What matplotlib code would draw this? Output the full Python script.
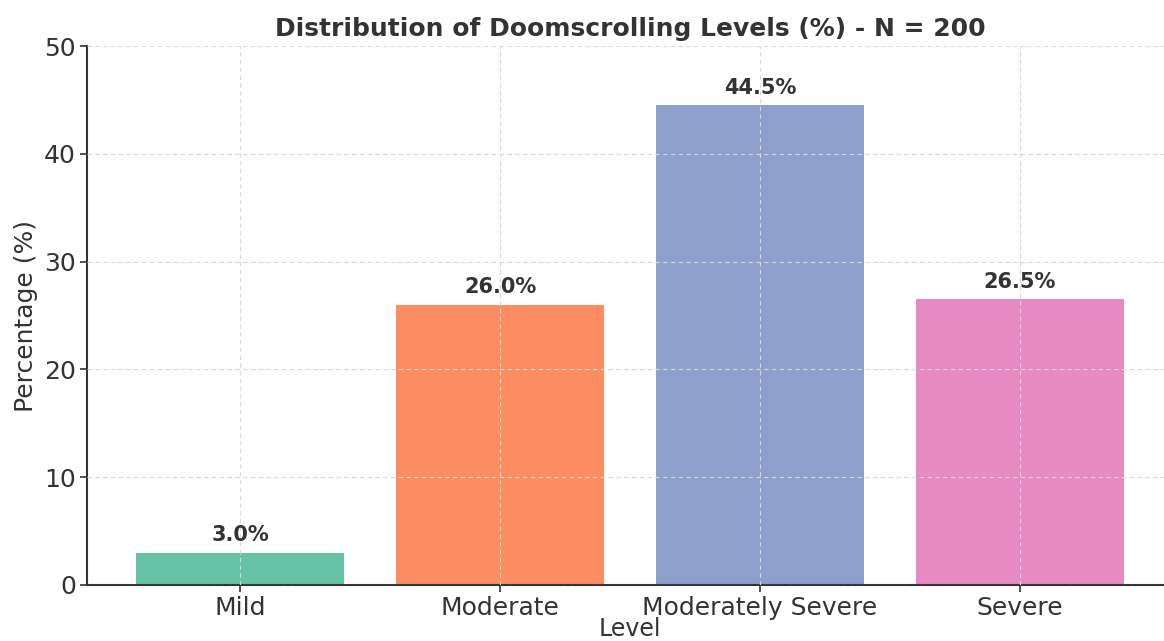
import matplotlib.pyplot as plt

plt.rcParams["font.family"] = "DejaVu Sans"

levels = ["Mild", "Moderate", "Moderately Severe", "Severe"]
percentages = [3.0, 26.0, 44.5, 26.5]
colors = ["#66c2a5", "#fc8d62", "#8da0cb", "#e78ac3"]
yticks = [0, 10, 20, 30, 40, 50]

txt = "#333333"

fig = plt.figure(figsize=(11.64, 6.41), dpi=100)
ax = fig.add_axes([0.0747, 0.0874, 0.933, 0.8408])

bars = ax.bar(levels, percentages, color=colors, width=0.8, zorder=1)
ax.grid(True, linestyle=(0, (4, 3)), color="#d8d8d8", linewidth=0.8, zorder=2)
ax.set_axisbelow(False)

for b, v in zip(bars, percentages):
    ax.text(b.get_x() + b.get_width() / 2, v + 0.7, f"{v:.1f}%",
            ha="center", va="bottom", fontsize=15, fontweight="bold", color=txt)

ax.set_ylim(0, 50)
ax.set_yticks(yticks)
ax.set_title("Distribution of Doomscrolling Levels (%) - N = 200",
             fontsize=18, fontweight="bold", color=txt, pad=7)
ax.set_xlabel("Level", fontsize=17, color=txt, labelpad=-2)
ax.set_ylabel("Percentage (%)", fontsize=18, color=txt, labelpad=4)
ax.tick_params(labelsize=18, colors=txt, length=5, width=1.2, pad=3)

for s in ["top", "right"]:
    ax.spines[s].set_visible(False)
for s in ["left", "bottom"]:
    ax.spines[s].set_color(txt)
    ax.spines[s].set_linewidth(1.5)

fig.savefig("out.png", dpi=100)
